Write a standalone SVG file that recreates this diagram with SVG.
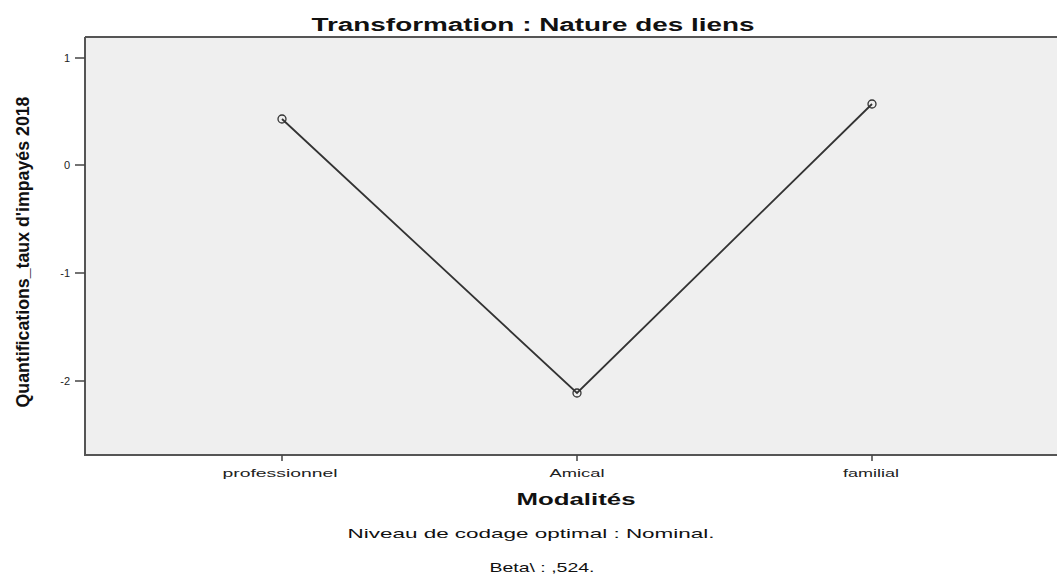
<svg xmlns="http://www.w3.org/2000/svg" width="1057" height="576" viewBox="0 0 1057 576">
<style>
.t{font-family:"Liberation Sans",Arial,sans-serif;fill:#111}
.tick{stroke:#444;stroke-width:1.5}
.lbl{font-size:11px;fill:#222}
.mk{fill:none;stroke:#333;stroke-width:1.3}
</style>
<rect width="1057" height="576" fill="#fff"/>
<g id="plot">
<rect x="85" y="37" width="972" height="418" fill="#efefef"/>
<path d="M85 37H1057M85 37V455H1057" fill="none" stroke="#555" stroke-width="2"/>
</g>
<g id="title"><text class="t" x="533" y="31" font-size="18" font-weight="bold" text-anchor="middle" textLength="443" lengthAdjust="spacingAndGlyphs">Transformation : Nature des liens</text></g>
<g id="yaxis">
<line class="tick" x1="75" y1="58" x2="85" y2="58"/>
<line class="tick" x1="75" y1="165" x2="85" y2="165"/>
<line class="tick" x1="75" y1="273" x2="85" y2="273"/>
<line class="tick" x1="75" y1="381" x2="85" y2="381"/>
<text class="t lbl" x="70" y="62" text-anchor="end">1</text>
<text class="t lbl" x="70" y="169" text-anchor="end">0</text>
<text class="t lbl" x="70" y="277" text-anchor="end">-1</text>
<text class="t lbl" x="70" y="385" text-anchor="end">-2</text>
<text class="t" transform="translate(29,252) rotate(-90)" font-size="18" font-weight="bold" text-anchor="middle" textLength="311" lengthAdjust="spacingAndGlyphs">Quantifications_taux d'impayés 2018</text>
</g>
<g id="xaxis">
<line class="tick" x1="282" y1="455" x2="282" y2="461"/>
<line class="tick" x1="577" y1="455" x2="577" y2="461"/>
<line class="tick" x1="872" y1="455" x2="872" y2="461"/>
<text class="t lbl" x="280" y="477" text-anchor="middle" textLength="115" lengthAdjust="spacingAndGlyphs">professionnel</text>
<text class="t lbl" x="577" y="477" text-anchor="middle" textLength="55" lengthAdjust="spacingAndGlyphs">Amical</text>
<text class="t lbl" x="871" y="477" text-anchor="middle" textLength="56" lengthAdjust="spacingAndGlyphs">familial</text>
<text class="t" x="576" y="505" font-size="17" font-weight="bold" text-anchor="middle" textLength="119" lengthAdjust="spacingAndGlyphs">Modalités</text>
<text class="t" x="531" y="538" font-size="13" text-anchor="middle" fill="#222" textLength="367" lengthAdjust="spacingAndGlyphs">Niveau de codage optimal : Nominal.</text>
<text class="t" x="542" y="572" font-size="13" text-anchor="middle" fill="#222" textLength="105" lengthAdjust="spacingAndGlyphs">Beta\ : ,524.</text>
</g>
<g id="connectors">
<polyline points="282,119 577,393 872,104" fill="none" stroke="#333" stroke-width="1.8"/>
</g>
<g id="node-professionnel"><circle class="mk" cx="282" cy="119" r="4"/></g>
<g id="node-amical"><circle class="mk" cx="577" cy="393" r="4"/></g>
<g id="node-familial"><circle class="mk" cx="872" cy="104" r="4"/></g>
</svg>
